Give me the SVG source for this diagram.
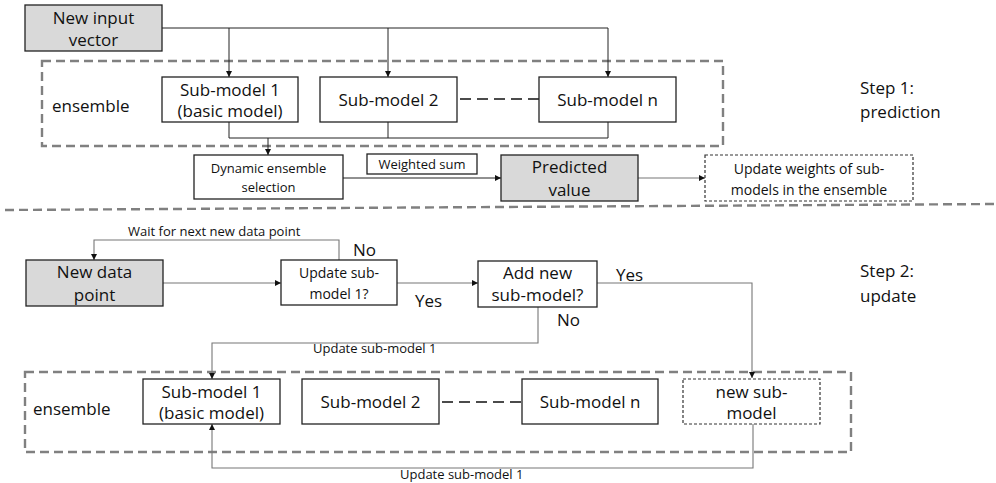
<svg xmlns="http://www.w3.org/2000/svg" width="996" height="483" viewBox="0 0 996 483">
<style>
text{font-family:"Open Sans","Liberation Sans",sans-serif;fill:#111}
.box{fill:#fff;stroke:#222;stroke-width:1.3}
.gray{fill:#d9d9d9;stroke:#222;stroke-width:1.3}
.dot{fill:#fff;stroke:#333;stroke-width:1.2;stroke-dasharray:3,2}
.ens{fill:none;stroke:#808080;stroke-width:2.4;stroke-dasharray:9,5}
.c{fill:none;stroke:#222;stroke-width:1}
.c2{fill:none;stroke:#777;stroke-width:1.1}
.dl{fill:none;stroke:#111;stroke-width:1.3;stroke-dasharray:11,6}
.l{font-size:17px}
.m{font-size:14px}
.s{font-size:13px}
</style>
<defs>
<marker id="a" viewBox="0 0 10 10" refX="10" refY="5" markerWidth="6" markerHeight="6" markerUnits="userSpaceOnUse" orient="auto"><path d="M0,0L10,5L0,10z" fill="#111"/></marker>
</defs>
<g id="ensemble-top"><rect class="ens" x="42" y="61" width="681" height="85"/><text class="l" x="52" y="112">ensemble</text></g>
<g id="ensemble-bottom"><rect class="ens" x="25" y="372" width="826" height="80"/><text class="l" x="33" y="415">ensemble</text></g>
<g id="separator"><line class="ens" x1="5" y1="210" x2="996" y2="204"/></g>
<g id="connectors">
<path class="c" d="M162,28H608"/>
<path class="c" d="M229,28V77" marker-end="url(#a)"/>
<path class="c" d="M388,28V77" marker-end="url(#a)"/>
<path class="c" d="M608,28V77" marker-end="url(#a)"/>
<path class="c" d="M229,122V138H608V122M388,122V138"/>
<path class="c" d="M268,138V155" marker-end="url(#a)"/>
<path class="dl" d="M460,99H539"/>
<path class="c" d="M343,178H501" marker-end="url(#a)"/>
<path class="c2" d="M638,178H705" marker-end="url(#a)"/>
<path class="c2" d="M339,260V240H94V260" marker-end="url(#a)"/>
<path class="c2" d="M163,283H281" marker-end="url(#a)"/>
<path class="c2" d="M397,283H478" marker-end="url(#a)"/>
<path class="c2" d="M597,283H752V378" marker-end="url(#a)"/>
<path class="c2" d="M538,307V343H212V379" marker-end="url(#a)"/>
<path class="dl" d="M442,402H522"/>
<path class="c2" d="M753,424V468H212V424" marker-end="url(#a)"/>
<text class="s" x="128" y="236">Wait for next new data point</text>
<text class="l" x="353" y="256">No</text>
<text class="l" x="415" y="307">Yes</text>
<text class="l" x="616" y="281">Yes</text>
<text class="l" x="557" y="326">No</text>
<text class="s" x="313" y="353">Update sub-model 1</text>
<text class="s" x="400" y="479">Update sub-model 1</text>
</g>
<g id="new-input"><rect class="gray" x="25" y="5" width="137" height="46"/><text class="l" text-anchor="middle" x="93.5" y="24">New input</text><text class="l" text-anchor="middle" x="93.5" y="46">vector</text></g>
<g id="sm1-top"><rect class="box" x="162" y="77" width="136" height="45"/><text class="l" text-anchor="middle" x="230" y="96">Sub-model 1</text><text class="l" text-anchor="middle" x="230" y="117">(basic model)</text></g>
<g id="sm2-top"><rect class="box" x="320" y="77" width="137" height="45"/><text class="l" text-anchor="middle" x="388.5" y="106">Sub-model 2</text></g>
<g id="smn-top"><rect class="box" x="539" y="77" width="137" height="45"/><text class="l" text-anchor="middle" x="607.5" y="106">Sub-model n</text></g>
<g id="dynamic"><rect class="box" x="194" y="155" width="149" height="44"/><text class="s" text-anchor="middle" x="268.5" y="173">Dynamic ensemble</text><text class="s" text-anchor="middle" x="268.5" y="192">selection</text></g>
<g id="weighted"><rect class="box" x="367" y="154" width="110" height="20"/><text class="s" text-anchor="middle" x="422" y="169">Weighted sum</text></g>
<g id="predicted"><rect class="gray" x="501" y="155" width="137" height="46"/><text class="l" text-anchor="middle" x="569.5" y="173">Predicted</text><text class="l" text-anchor="middle" x="569.5" y="196">value</text></g>
<g id="update-weights"><rect class="dot" x="705" y="155" width="208" height="46"/><text class="m" text-anchor="middle" x="809" y="174">Update weights of sub-</text><text class="m" text-anchor="middle" x="809" y="195">models in the ensemble</text></g>
<g id="step1"><text class="l" x="860" y="94">Step 1:</text><text class="l" x="860" y="118">prediction</text></g>
<g id="step2"><text class="l" x="860" y="277">Step 2:</text><text class="l" x="860" y="302">update</text></g>
<g id="new-data"><rect class="gray" x="26" y="260" width="137" height="46"/><text class="l" text-anchor="middle" x="94.5" y="278">New data</text><text class="l" text-anchor="middle" x="94.5" y="301">point</text></g>
<g id="update-sm1"><rect class="box" x="281" y="260" width="116" height="45"/><text class="m" text-anchor="middle" x="339" y="278">Update sub-</text><text class="m" text-anchor="middle" x="339" y="299">model 1?</text></g>
<g id="add-new"><rect class="box" x="478" y="261" width="119" height="46"/><text class="l" text-anchor="middle" x="537.5" y="279">Add new</text><text class="l" text-anchor="middle" x="537.5" y="301">sub-model?</text></g>
<g id="sm1-bottom"><rect class="box" x="143" y="379" width="137" height="45"/><text class="l" text-anchor="middle" x="211.5" y="398">Sub-model 1</text><text class="l" text-anchor="middle" x="211.5" y="419">(basic model)</text></g>
<g id="sm2-bottom"><rect class="box" x="302" y="379" width="137" height="45"/><text class="l" text-anchor="middle" x="370.5" y="408">Sub-model 2</text></g>
<g id="smn-bottom"><rect class="box" x="522" y="379" width="136" height="45"/><text class="l" text-anchor="middle" x="590" y="408">Sub-model n</text></g>
<g id="new-sm"><rect class="dot" x="683" y="379" width="137" height="45"/><text class="l" text-anchor="middle" x="751.5" y="398">new sub-</text><text class="l" text-anchor="middle" x="751.5" y="419">model</text></g>
</svg>
